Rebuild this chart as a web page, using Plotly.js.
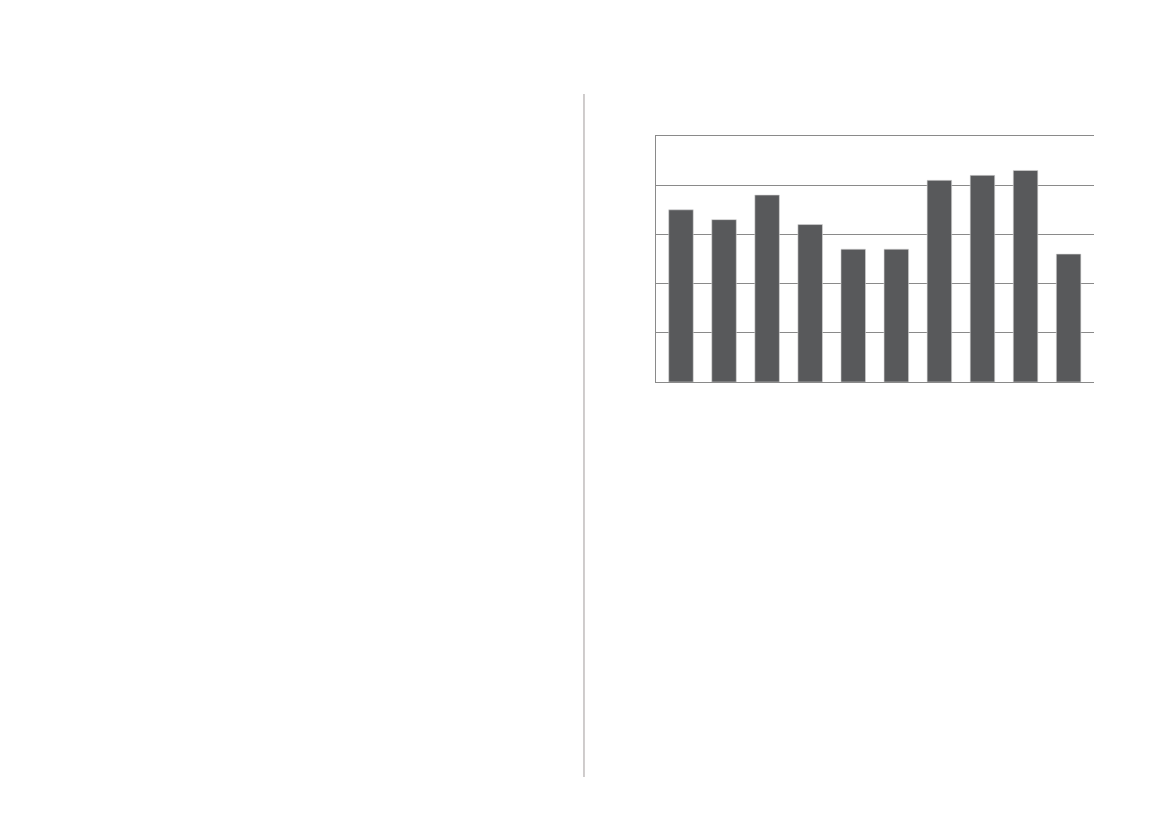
<!DOCTYPE html>
<html>
<head>
<meta charset="utf-8">
<script src="https://cdn.plot.ly/plotly-3.0.1.min.js"></script>
<style>
  html, body { margin: 0; padding: 0; background: #ffffff; }
  #chart { width: 1169px; height: 827px; }
</style>
</head>
<body>
<div id="chart"></div>
<script>
// categories carry no visible labels in the reference
var categories = ['1', '2', '3', '4', '5', '6', '7', '8', '9', '10'];
var values = [35, 33, 38, 32, 27, 27, 41, 42, 43, 26];
var yTickValues = [0, 10, 20, 30, 40, 50];

var gridGrey = '#8a8a8a';

var data = [
    {
        x: categories,
        y: values,
        type: 'bar',
        marker: {
            color: '#58595b',
            line: { color: '#d9d9d9', width: 0.6 }
        },
        hoverinfo: 'none'
    }
];

var layout = {
    width: 1169,
    height: 827,
    margin: { l: 656, r: 75, t: 136, b: 445, pad: 0 },
    paper_bgcolor: '#ffffff',
    plot_bgcolor: '#ffffff',
    showlegend: false,
    bargap: 0.43,
    xaxis: {
        type: 'category',
        range: [-0.58, 9.59],
        showticklabels: false,
        ticks: '',
        showgrid: false,
        zeroline: false,
        showline: true,
        mirror: true,   // top border = the 50 gridline
        linecolor: gridGrey,
        linewidth: 1.3
    },
    yaxis: {
        range: [0, 50],
        tickvals: yTickValues,
        showticklabels: false,
        ticks: '',
        showgrid: true,
        gridcolor: gridGrey,
        gridwidth: 1.3,
        zeroline: false,
        showline: true,
        linecolor: gridGrey,
        linewidth: 1.3
    },
    shapes: [
        {
            // page divider left of the chart
            type: 'line',
            xref: 'paper', yref: 'paper',
            x0: -0.1644, x1: -0.1644,
            y0: 1.1707, y1: -1.6057,
            line: { color: '#a09a9b', width: 1 }
        }
    ]
};

Plotly.newPlot('chart', data, layout, { staticPlot: true, displayModeBar: false });
</script>
</body>
</html>
